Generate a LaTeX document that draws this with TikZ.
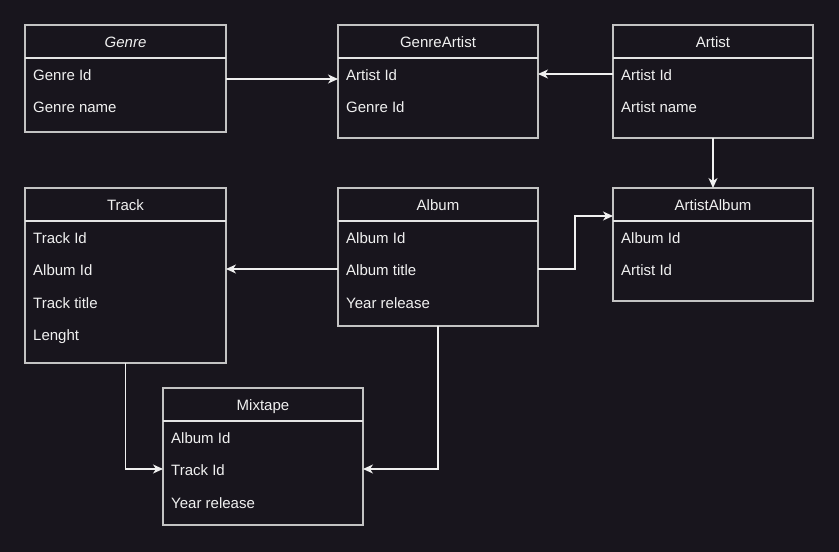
\documentclass[tikz,border=0pt]{standalone}
\usepackage{fontspec}
\setmainfont{Liberation Sans}
\usetikzlibrary{arrows.meta,calc}
\definecolor{bg}{RGB}{24,21,29}
\definecolor{fg}{RGB}{240,240,240}
\definecolor{bord}{RGB}{195,195,195}
\definecolor{hline}{RGB}{228,228,228}
\tikzset{
  tbl/.style={draw=bord,line width=1.1pt,fill=bg,anchor=north west,inner sep=0pt,outer sep=0pt},
  hdr/.style={draw=hline,line width=1.1pt},
  ttl/.style={text=fg,anchor=base,inner sep=0pt,font=\fontsize{15}{18}\selectfont},
  rowtxt/.style={text=fg,anchor=base west,inner sep=0pt,font=\fontsize{15}{18}\selectfont},
  conn/.style={draw=fg,line width=1.1pt,-{Stealth[length=10pt,width=9pt,inset=3pt]}},
}
\newcommand{\erhead}[3]{%
  \draw[hdr] ([yshift=-33pt]#1.north west) -- ([yshift=-33pt]#1.north east);
  \node[ttl] (#1T) at ([yshift=-22pt]#1.north) {#2};
  \foreach \t [count=\i] in {#3} {
    \node[rowtxt] (#1R\i) at ([xshift=8pt,yshift={-55pt-32.5pt*(\i-1)}]#1.north west) {\t};
  }
}
\begin{document}
\begin{tikzpicture}[x=1pt,y=-1pt]
\fill[bg] (0,0) rectangle (839,552);
\useasboundingbox (0,0) rectangle (839,552);

\node[tbl,minimum width=201pt,minimum height=107pt] (genre) at (25,25) {};
\erhead{genre}{\itshape Genre}{Genre Id,Genre name}

\node[tbl,minimum width=200pt,minimum height=113pt] (gartist) at (338,25) {};
\erhead{gartist}{GenreArtist}{Artist Id,Genre Id}

\node[tbl,minimum width=200pt,minimum height=113pt] (artist) at (613,25) {};
\erhead{artist}{Artist}{Artist Id,Artist name}

\node[tbl,minimum width=201pt,minimum height=175pt] (track) at (25,188) {};
\erhead{track}{Track}{Track Id,Album Id,Track title,Lenght}

\node[tbl,minimum width=200pt,minimum height=138pt] (album) at (338,188) {};
\erhead{album}{Album}{Album Id,Album title,Year release}

\node[tbl,minimum width=200pt,minimum height=113pt] (aalbum) at (613,188) {};
\erhead{aalbum}{ArtistAlbum}{Album Id,Artist Id}

\node[tbl,minimum width=200pt,minimum height=137pt] (mixtape) at (163,388) {};
\erhead{mixtape}{Mixtape}{Album Id,Track Id,Year release}

% connectors
\draw[conn] (genre.east |- 0,79) -- (gartist.west |- 0,79);
\draw[conn] (artist.west |- 0,74) -- (gartist.east |- 0,74);
\draw[conn] (artist.south) -- (aalbum.north);
\coordinate (k1) at (575,269);
\coordinate (k2) at (575,216);
\draw[conn] (album.east |- k1) -- (k1) -- (k2) -- (aalbum.west |- k2);
\draw[conn] (album.west |- 0,269) -- (track.east |- 0,269);
\coordinate (k3) at (track.south |- 0,469);
\draw[conn] (track.south) -- (k3) -- (mixtape.west |- k3);
\coordinate (k4) at (album.south |- 0,469);
\draw[conn] (album.south) -- (k4) -- (mixtape.east |- k4);
\end{tikzpicture}
\end{document}
